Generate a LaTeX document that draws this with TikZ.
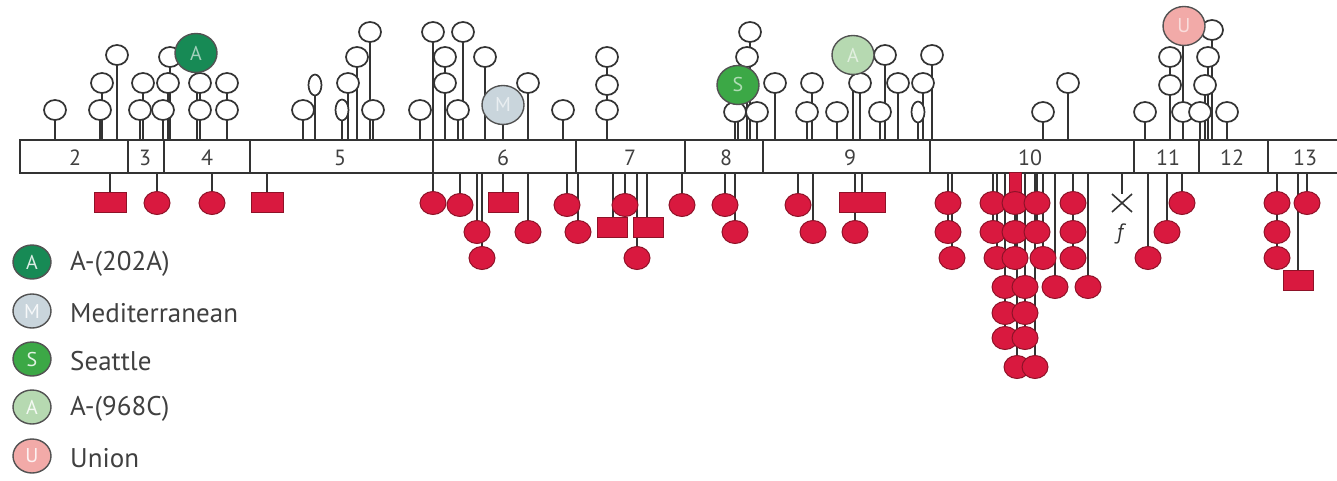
\documentclass[tikz,border=0pt]{standalone}
\usepackage{fontspec}
\setmainfont{PT Sans}
\usetikzlibrary{shapes.geometric}
\definecolor{linegray}{HTML}{333333}
\definecolor{textgray}{HTML}{404040}
\definecolor{redfill}{HTML}{D9193F}
\definecolor{reddark}{HTML}{8E1228}
\definecolor{aGreen}{HTML}{178A55}
\definecolor{medGray}{HTML}{C9D5DC}
\definecolor{seaGreen}{HTML}{3CA846}
\definecolor{lightGreen}{HTML}{B6D9B1}
\definecolor{unionPink}{HTML}{F2AAA8}
\begin{document}
\begin{tikzpicture}[x=1pt,y=-1pt,
  stem/.style={draw=linegray, line width=1.6pt},
  openhead/.style={draw=linegray, fill=white, line width=1.7pt},
  redhead/.style={draw=reddark, fill=redfill, line width=1pt},
  varhead/.style={ellipse, draw=linegray!85, line width=1.4pt, minimum width=42pt,
    minimum height=39pt, inner sep=0pt, text=white, text opacity=0.6,
    font=\fontsize{20}{20}\selectfont},
  keyhead/.style={varhead, minimum width=38pt, minimum height=34pt, text opacity=0.85},
  lbl/.style={text=textgray, anchor=west, inner sep=0pt, font=\fontsize{27}{29}\selectfont},
  exonlbl/.style={text=textgray, inner sep=0pt, font=\fontsize{22}{22}\selectfont}]
\useasboundingbox (0,0) rectangle (1337,481);

% ---- exon bar ----
\draw[linegray, line width=1.8pt] (1345,140) -- (20,140) -- (20,173) -- (1345,173);
\foreach \b in {128,164,250,433,576,685,763,930,1134,1199,1268}
  \draw[linegray, line width=1.8pt] (\b,140) -- (\b,173);
\foreach \x/\n in {75/2,145/3,207/4,340/5,503/6,630/7,726/8,850/9,1030/10,1168/11,1232/12,1305/13}
  \node[exonlbl] (ex\n) at (\x,158) {\n};

% ---- variants above the bar: stems ----
\foreach \x/\y in {55/110,100/110,102/83,117/55,140/110,143/83,163/110,168/83,170/57,200/110,
  200/83,227/110,227/83,303/110,348/83,357/57,370/32,373/110,420/110,433/32,445/57,445/83,
  458/110,463/32,485/57,528/83,563/110,607/110,607/85,607/57,750/32,747/57,735/112,757/112,
  775/83,812/83,807/112,837/112,860/83,885/55,880/112,898/83,923/83,932/55,1043/112,1068/83,
  1145/112,1212/30,1170/57,1170/85,1208/57,1205/85,1183/112,1200/112,1227/112,
  315/85,342/110,918/112,197/52,503/105,738/85,853/55,1183/27}
  \draw[stem] (\x,140) -- (\x,\y);

% ---- open heads ----
\foreach \x/\y in {55/110,100/110,102/83,117/55,140/110,143/83,163/110,168/83,170/57,200/110,
  200/83,227/110,227/83,303/110,348/83,357/57,370/32,373/110,420/110,433/32,445/57,445/83,
  458/110,463/32,485/57,528/83,563/110,607/110,607/85,607/57,750/32,747/57,735/112,757/112,
  775/83,812/83,807/112,837/112,860/83,885/55,880/112,898/83,923/83,932/55,1043/112,1068/83,
  1145/112,1212/30,1170/57,1170/85,1208/57,1205/85,1183/112,1200/112,1227/112}
  \draw[openhead] (\x,\y) ellipse [x radius=11pt, y radius=10pt];
\foreach \x/\y in {315/85,342/110,918/112}
  \draw[openhead] (\x,\y) ellipse [x radius=6.5pt, y radius=10.5pt];

% ---- named variants ----
\node[varhead, fill=aGreen]     (vA) at (196,53)  {A};
\node[varhead, fill=medGray]    (vM) at (503,105) {M};
\node[varhead, fill=seaGreen]   (vS) at (738,85)  {S};
\node[varhead, fill=lightGreen] (vC) at (853,55)  {A};
\node[varhead, fill=unionPink]  (vU) at (1184,26) {U};

% ---- variants below the bar: stems ----
\foreach \x/\y in {157/203,212/203,433/203,460/205,477/232,482/258,528/232,567/205,578/232,
  625/205,637/258,682/205,725/205,735/232,798/205,813/232,855/232,948/203,948/232,952/258,
  993/203,993/232,997/258,1015/232,1015/258,1037/203,1037/232,1043/258,1073/203,1073/232,
  1073/258,1055/287,1088/287,1005/287,1025/287,1005/313,1025/313,1005/338,1025/338,1017/367,
  1035/367,1148/258,1167/232,1182/203,1277/203,1277/232,1277/258,1307/203,
  110/202,267/202,503/202,613/227,647/227,862/202,1298/280}
  \draw[stem] (\x,173) -- (\x,\y);

% ---- rectangular heads ----
\foreach \x/\y/\w in {110/202/32,267/202/32,503/202/30,612/227/30,648/227/30,862/202/46,1298/280/30}
  \draw[redhead] ({\x-\w/2},{\y-10}) rectangle ++(\w,20);
\draw[redhead] (1009,173) rectangle (1021,207);

% ---- round heads ----
\foreach \x/\y in {157/203,212/203,433/203,460/205,477/232,482/258,528/232,567/205,578/232,
  625/205,637/258,682/205,725/205,735/232,798/205,813/232,855/232,948/203,948/232,952/258,
  993/203,993/232,997/258,1015/203,1015/232,1015/258,1037/203,1037/232,1043/258,1073/203,
  1073/232,1073/258,1055/287,1088/287,1005/287,1025/287,1005/313,1025/313,1005/338,1025/338,
  1017/367,1035/367,1148/258,1167/232,1182/203,1277/203,1277/232,1277/258,1307/203}
  \draw[redhead] (\x,\y) ellipse [x radius=13pt, y radius=11.5pt];

% ---- frameshift marker ----
\coordinate (fx) at (1122,203);
\draw[stem] (1122,173) -- (1122,194);
\draw[linegray, line width=1.6pt] ([shift={(-10,-9)}]fx) -- ([shift={(10,9)}]fx)
  ([shift={(-10,9)}]fx) -- ([shift={(10,-9)}]fx);
\node[text=linegray, font=\itshape\fontsize{22}{22}\selectfont] (fl) at (1120,234) {f};

% ---- key ----
\node[keyhead, fill=aGreen]     (kA) at (32,262) {A};
\node[keyhead, fill=medGray]    (kM) at (32,311) {M};
\node[keyhead, fill=seaGreen]   (kS) at (32,359) {S};
\node[keyhead, fill=lightGreen] (kC) at (32,407) {A};
\node[keyhead, fill=unionPink]  (kU) at (32,456) {U};
\node[lbl] (tA) at (70,264) {A-(202A)};
\node[lbl] (tM) at (70,313) {Mediterranean};
\node[lbl] (tS) at (70,361) {Seattle};
\node[lbl] (tC) at (70,409) {A-(968C)};
\node[lbl] (tU) at (70,458) {Union};
\end{tikzpicture}
\end{document}
